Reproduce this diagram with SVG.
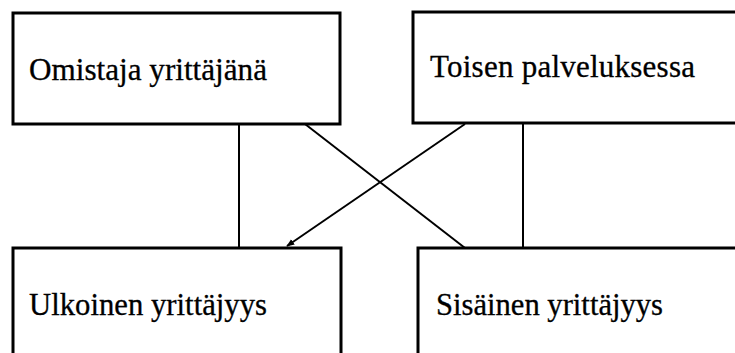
<svg xmlns="http://www.w3.org/2000/svg" width="735" height="353" viewBox="0 0 735 353">
<style>
.box{fill:#fff;stroke:#000;stroke-width:3}
.lbl{font-family:"Liberation Serif","Times New Roman",serif;font-size:31px;fill:#000;stroke:#000;stroke-width:0.3}
.con{stroke:#000;stroke-width:2;fill:none}
</style>
<defs>
<marker id="ah" viewBox="0 0 10 10" refX="9" refY="5" markerWidth="4" markerHeight="4" orient="auto" markerUnits="strokeWidth">
<path d="M0,1 L10,5 L0,9 z" fill="#000"/>
</marker>
</defs>
<rect width="735" height="353" fill="#fff"/>
<g id="connectors">
<line class="con" x1="239" y1="124" x2="239" y2="248"/>
<line class="con" x1="305" y1="124" x2="465" y2="248"/>
<line class="con" x1="465" y1="124" x2="287" y2="246" marker-end="url(#ah)"/>
<line class="con" x1="523" y1="124" x2="523" y2="248"/>
</g>
<g id="omistaja">
<rect class="box" x="13" y="13" width="327" height="111"/>
<text class="lbl" x="29" y="80" textLength="238" lengthAdjust="spacingAndGlyphs">Omistaja yrittäjänä</text>
</g>
<g id="toisen">
<rect class="box" x="413" y="12" width="330" height="111"/>
<text class="lbl" x="430" y="77" textLength="265" lengthAdjust="spacing">Toisen palveluksessa</text>
</g>
<g id="ulkoinen">
<rect class="box" x="13" y="248" width="328" height="120"/>
<text class="lbl" x="29" y="315" textLength="238" lengthAdjust="spacingAndGlyphs">Ulkoinen yrittäjyys</text>
</g>
<g id="sisainen">
<rect class="box" x="418" y="248" width="330" height="120"/>
<text class="lbl" x="436" y="315" textLength="227" lengthAdjust="spacingAndGlyphs">Sisäinen yrittäjyys</text>
</g>
</svg>
